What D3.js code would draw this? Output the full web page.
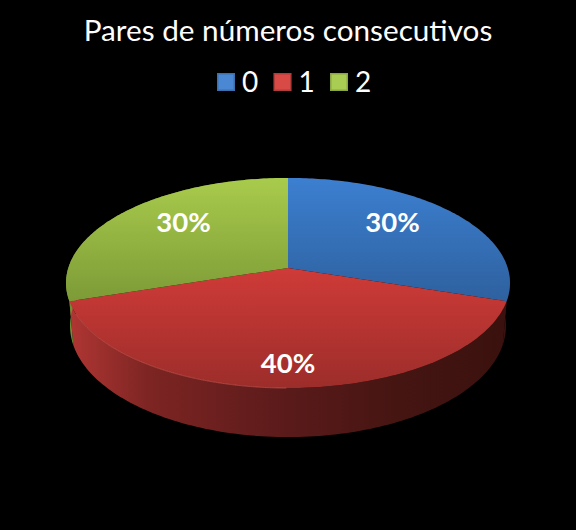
<!DOCTYPE html>
<meta charset="utf-8">
<style>
  html, body { margin: 0; background: #000; }
  svg { display: block; }
  text { font-family: Lato, "Open Sans", sans-serif; fill: #fff; }
</style>

<!-- Load d3.js -->
<script src="https://d3js.org/d3.v7.min.js"></script>

<div id="my_dataviz"></div>

<script>

  // chart data
  var title = "Pares de números consecutivos";
  var categories = ["0", "1", "2"];
  var values = [30, 40, 30];
  var percentLabels = ["30%", "40%", "30%"];

  // colours: [light, dark] of the top face, of the legend key
  var topColors = [["#3c7fd0", "#2e619f"], ["#cf3b38", "#9c2d2a"], ["#a9cb4c", "#7d9b37"]];
  var keyColors = [["#4a88d4", "#2f68ac"], ["#d84a46", "#a93230"], ["#a9cc52", "#7f9e3a"]];

  var width = 576, height = 530;

  // the perspective of the disc: u is right, v is toward the viewer, both -1..1
  var cx = 288, apexY = 268, topA = 64.6, persp = -0.1429, rx = 219.7;
  var depth = 42, bottomShrink = 0.982;

  function project(u, v, low) {
    var w = 1 + persp * v;
    var y = (topA * v + apexY) / w;
    var k = low ? bottomShrink : 1;
    return [cx + rx * k * u / w, y + (low ? depth / w : 0)];
  }
  function rim(a, low) {
    return project(Math.sin(a), -Math.cos(a), low);
  }

  var svg = d3.select("#my_dataviz")
    .append("svg")
      .attr("width", width)
      .attr("height", height);

  var defs = svg.append("defs");

  function vGradient(id, colors, y1, y2) {
    var g = defs.append("linearGradient").attr("id", id)
      .attr("gradientUnits", "userSpaceOnUse")
      .attr("x1", 0).attr("x2", 0).attr("y1", y1).attr("y2", y2);
    g.append("stop").attr("offset", 0).attr("stop-color", colors[0]);
    g.append("stop").attr("offset", 1).attr("stop-color", colors[1]);
  }

  vGradient("top0", topColors[0], 178, 300);
  vGradient("top1", topColors[1], 268, 388);
  vGradient("top2", topColors[2], 178, 300);

  // side wall shading runs left to right
  var sideStops = [[0, "#b03633"], [0.18, "#7d2523"], [0.5, "#5a1a1a"], [0.75, "#451512"], [1, "#3a110e"]];
  var sideGrad = defs.append("linearGradient").attr("id", "side1")
    .attr("gradientUnits", "userSpaceOnUse")
    .attr("x1", 69).attr("x2", 508).attr("y1", 0).attr("y2", 0);
  sideStops.forEach(function(s) {
    sideGrad.append("stop").attr("offset", s[0]).attr("stop-color", s[1]);
  });

  var sideFill = ["#3a110e", "url(#side1)", "#6f8f35"];

  var pie = d3.pie().sort(null);
  var slices = pie(values);

  function arcPoints(d, low, reverse) {
    var n = 120;
    var angle = d3.scaleLinear().domain([0, n]).range(reverse ? [d.endAngle, d.startAngle] : [d.startAngle, d.endAngle]);
    return d3.range(n + 1).map(function(i) { return rim(angle(i), low); });
  }
  var line = d3.line();

  // side walls first, the top faces cover whatever is behind
  svg.append("g").selectAll("path")
    .data(slices)
    .enter()
    .append("path")
      .attr("d", function(d) {
        return line(arcPoints(d, false, false).concat(arcPoints(d, true, true))) + "Z";
      })
      .attr("fill", function(d, i) { return sideFill[i]; });

  // top faces
  svg.append("g").selectAll("path")
    .data(slices)
    .enter()
    .append("path")
      .attr("d", function(d) {
        return line([project(0, 0, false)].concat(arcPoints(d, false, false))) + "Z";
      })
      .attr("fill", function(d, i) { return "url(#top" + i + ")"; });

  // thin highlight along the front edge of the red slice
  svg.append("path")
    .attr("d", line(arcPoints({startAngle: slices[1].endAngle - 1.25, endAngle: slices[1].endAngle - 0.12}, false, false)))
    .attr("fill", "none")
    .attr("stroke", "#d9605a")
    .attr("stroke-opacity", 0.55)
    .attr("stroke-width", 1);

  // percent labels
  var labelRadius = [0.7, 0.82, 0.7];
  var labelNudge = [[-13, -6], [0, 0], [13, -6]];

  svg.append("g").selectAll("text")
    .data(slices)
    .enter()
    .append("text")
      .attr("x", function(d, i) {
        var a = (d.startAngle + d.endAngle) / 2;
        return project(labelRadius[i] * Math.sin(a), -labelRadius[i] * Math.cos(a), false)[0] + labelNudge[i][0];
      })
      .attr("y", function(d, i) {
        var a = (d.startAngle + d.endAngle) / 2;
        return project(labelRadius[i] * Math.sin(a), -labelRadius[i] * Math.cos(a), false)[1] + labelNudge[i][1];
      })
      .attr("dy", "0.36em")
      .attr("text-anchor", "middle")
      .attr("font-weight", 700)
      .attr("font-size", 27.5)
      .text(function(d, i) { return percentLabels[i]; });

  // title
  svg.append("text")
    .attr("x", cx)
    .attr("y", 41)
    .attr("text-anchor", "middle")
    .attr("font-size", 29.7)
    .text(title);

  // legend
  var legendX = d3.scalePoint().domain(categories).range([217, 330]);
  var keySize = 18;

  categories.forEach(function(c, i) {
    vGradient("key" + i, keyColors[i], 73, 91);
  });

  var legend = svg.append("g").selectAll("g")
    .data(categories)
    .enter()
    .append("g")
      .attr("transform", function(d) { return "translate(" + legendX(d) + ",73)"; });

  legend.append("rect")
    .attr("width", keySize)
    .attr("height", keySize)
    .attr("fill", function(d, i) { return "url(#key" + i + ")"; });

  // soft bevel round the key
  legend.append("rect")
    .attr("x", 0.75)
    .attr("y", 0.75)
    .attr("width", keySize - 1.5)
    .attr("height", keySize - 1.5)
    .attr("fill", "none")
    .attr("stroke", "#000")
    .attr("stroke-opacity", 0.18)
    .attr("stroke-width", 1.5);

  legend.append("text")
    .attr("x", keySize + 7)
    .attr("y", 19)
    .attr("font-size", 28)
    .text(function(d) { return d; });

</script>
